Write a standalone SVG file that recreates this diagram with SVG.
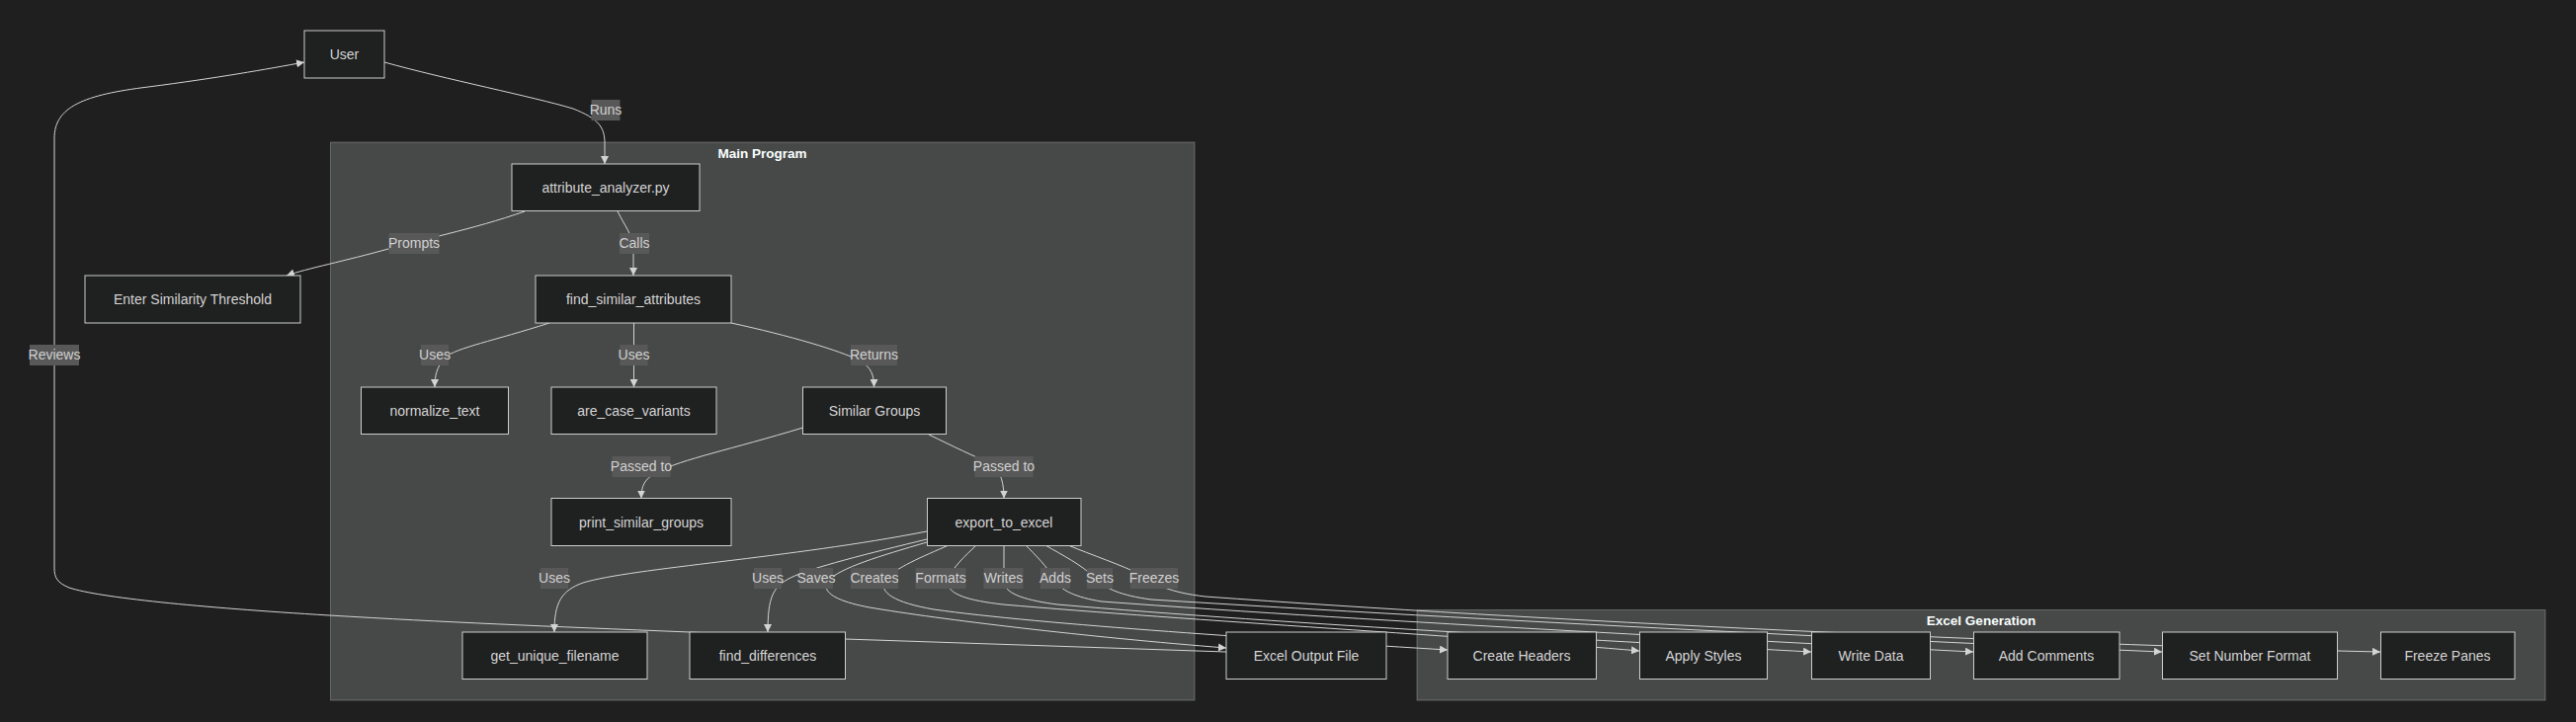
<svg xmlns="http://www.w3.org/2000/svg" width="2607" height="731" viewBox="0 0 2607 731">
<style>
.bg{fill:#1f1f1f}
.cluster{fill:#474949;stroke:rgba(255,255,255,0.25);stroke-width:1}
.ctitle{fill:#f9fffe;font-family:"Liberation Sans",Arial,sans-serif;font-size:13.5px;font-weight:bold;text-anchor:middle}
.node rect{fill:#1f2020;stroke:#cccccc;stroke-width:1}
.node text{fill:#d4d4d4;font-family:"Liberation Sans",Arial,sans-serif;font-size:14px;text-anchor:middle}
.edge{fill:none;stroke:#d3d3d3;stroke-width:1}
.lbl rect{fill:#585858}
.lbl text{fill:#d0d0d0;font-family:"Liberation Sans",Arial,sans-serif;font-size:14px;text-anchor:middle}
</style>
<defs>
<marker id="arrow" viewBox="0 0 10 10" refX="10" refY="5" markerUnits="userSpaceOnUse" markerWidth="8" markerHeight="8" orient="auto">
<path d="M0,0 L10,5 L0,10 z" fill="#d3d3d3"/>
</marker>
</defs>
<rect class="bg" x="0" y="0" width="2607" height="731"/>

<g id="clusters">
<g id="cluster-main"><rect class="cluster" x="334.5" y="144" width="874.5" height="565"/><text class="ctitle" x="771.5" y="159.5">Main Program</text></g>
<g id="cluster-excel"><rect class="cluster" x="1434" y="617.5" width="1142" height="91.5"/><text class="ctitle" x="2005" y="632.5">Excel Generation</text></g>
</g>

<g id="edges">
<path class="edge" marker-end="url(#arrow)" d="M389,63 C450,80 540,98 580,110 C605,120 612,128 612,145 L612,166"/>
<path class="edge" marker-end="url(#arrow)" d="M531,214 C480,232 420,244 393,252 C350,264 310,272 290,279"/>
<path class="edge" marker-end="url(#arrow)" d="M625,214 C632,228 640,238 641,250 L641,279"/>
<path class="edge" marker-end="url(#arrow)" d="M556,327 C500,345 462,352 450,362 C442,372 440,380 440,392"/>
<path class="edge" marker-end="url(#arrow)" d="M641.5,327 L641.5,392"/>
<path class="edge" marker-end="url(#arrow)" d="M740,327 C800,340 850,355 870,365 C882,372 884.5,380 884.5,392"/>
<path class="edge" marker-end="url(#arrow)" d="M812.6,433 C740,455 690,465 665,478 C652,485 649,492 649,504.5"/>
<path class="edge" marker-end="url(#arrow)" d="M940,440 C965,452 985,462 1005,470 C1013,478 1016,490 1016,504.5"/>
<path class="edge" marker-end="url(#arrow)" d="M938,538 C800,565 640,575 590,590 C568,598 561,610 561,640"/>
<path class="edge" marker-end="url(#arrow)" d="M938,546 C880,560 820,575 800,585 C782,594 777,605 777,640"/>
<path class="edge" marker-end="url(#arrow)" d="M938,549 C890,563 850,575 838,588 C830,600 848,609 880,615 C950,627 1100,645 1241,656"/>
<path class="edge" marker-end="url(#arrow)" d="M960,552 C935,563 905,575 895,588 C890,600 905,610 945,617 C1050,632 1300,648 1465,658"/>
<path class="edge" marker-end="url(#arrow)" d="M988,552 C978,562 962,575 959,590 C960,602 980,608 1015,612 C1200,628 1500,645 1659,659"/>
<path class="edge" marker-end="url(#arrow)" d="M1016,552 L1016,590 C1018,602 1040,608 1070,612 C1300,632 1650,650 1833,660"/>
<path class="edge" marker-end="url(#arrow)" d="M1038,552 C1048,562 1060,574 1066,585 C1072,598 1090,605 1115,609 C1400,630 1800,650 1997,660"/>
<path class="edge" marker-end="url(#arrow)" d="M1058,552 C1075,562 1095,572 1108,585 C1118,596 1135,603 1165,607 C1500,628 1950,650 2188,660"/>
<path class="edge" marker-end="url(#arrow)" d="M1081,552 C1105,562 1135,572 1155,582 C1168,592 1185,600 1220,604 C1550,628 2050,652 2409,660"/>
<path class="edge" marker-end="url(#arrow)" d="M1241,660 L855,647 L698,640 C550,634 450,630 333,623 C200,615 100,605 70,595 C58,590 55,585 55,575 L55,140 C55,108 85,96 150,88 C220,79 270,70 308,63"/>
</g>

<g id="edge-labels">
<g class="lbl"><rect x="598.5" y="101" width="29" height="21"/><text x="613" y="116">Runs</text></g>
<g class="lbl"><rect x="393.5" y="236" width="51" height="21"/><text x="419" y="251">Prompts</text></g>
<g class="lbl"><rect x="627" y="236" width="30" height="21"/><text x="642" y="251">Calls</text></g>
<g class="lbl"><rect x="426" y="349" width="28" height="21"/><text x="440" y="364">Uses</text></g>
<g class="lbl"><rect x="627.5" y="349" width="28" height="21"/><text x="641.5" y="364">Uses</text></g>
<g class="lbl"><rect x="861" y="349" width="47" height="21"/><text x="884.5" y="364">Returns</text></g>
<g class="lbl"><rect x="30" y="349" width="50" height="21"/><text x="55" y="364">Reviews</text></g>
<g class="lbl"><rect x="619.5" y="462" width="59" height="21"/><text x="649" y="477">Passed to</text></g>
<g class="lbl"><rect x="986.5" y="462" width="59" height="21"/><text x="1016" y="477">Passed to</text></g>
<g class="lbl"><rect x="547" y="575" width="28" height="21"/><text x="561" y="590">Uses</text></g>
<g class="lbl"><rect x="763" y="575" width="28" height="21"/><text x="777" y="590">Uses</text></g>
<g class="lbl"><rect x="809" y="575" width="34" height="21"/><text x="826" y="590">Saves</text></g>
<g class="lbl"><rect x="861" y="575" width="48" height="21"/><text x="885" y="590">Creates</text></g>
<g class="lbl"><rect x="926.5" y="575" width="51" height="21"/><text x="952" y="590">Formats</text></g>
<g class="lbl"><rect x="995.5" y="575" width="40" height="21"/><text x="1015.5" y="590">Writes</text></g>
<g class="lbl"><rect x="1053" y="575" width="30" height="21"/><text x="1068" y="590">Adds</text></g>
<g class="lbl"><rect x="1100" y="575" width="26" height="21"/><text x="1113" y="590">Sets</text></g>
<g class="lbl"><rect x="1144" y="575" width="48" height="21"/><text x="1168" y="590">Freezes</text></g>
</g>

<g id="nodes">
<g id="user" class="node"><rect x="308" y="31" width="81" height="48"/><text x="348.5" y="60">User</text></g>
<g id="attribute_analyzer" class="node"><rect x="518" y="166" width="190" height="47.5"/><text x="613" y="194.5">attribute_analyzer.py</text></g>
<g id="threshold" class="node"><rect x="86" y="279" width="218" height="48"/><text x="195" y="308">Enter Similarity Threshold</text></g>
<g id="find_similar_attributes" class="node"><rect x="542" y="279" width="198" height="48"/><text x="641" y="308">find_similar_attributes</text></g>
<g id="normalize_text" class="node"><rect x="365.5" y="392" width="149" height="47.5"/><text x="440" y="420.5">normalize_text</text></g>
<g id="are_case_variants" class="node"><rect x="558" y="392" width="167" height="47.5"/><text x="641.5" y="420.5">are_case_variants</text></g>
<g id="similar_groups" class="node"><rect x="812.5" y="392" width="145" height="47.5"/><text x="885" y="420.5">Similar Groups</text></g>
<g id="print_similar_groups" class="node"><rect x="558" y="504.5" width="182" height="48"/><text x="649" y="533.5">print_similar_groups</text></g>
<g id="export_to_excel" class="node"><rect x="938.5" y="504.5" width="155.5" height="48"/><text x="1016" y="533.5">export_to_excel</text></g>
<g id="get_unique_filename" class="node"><rect x="468" y="640" width="187" height="47.5"/><text x="561.5" y="668.5">get_unique_filename</text></g>
<g id="find_differences" class="node"><rect x="698" y="640" width="157.5" height="47.5"/><text x="777" y="668.5">find_differences</text></g>
<g id="excel_output_file" class="node"><rect x="1241" y="640" width="162" height="47.5"/><text x="1322" y="668.5">Excel Output File</text></g>
<g id="create_headers" class="node"><rect x="1465" y="640" width="150.5" height="47.5"/><text x="1540" y="668.5">Create Headers</text></g>
<g id="apply_styles" class="node"><rect x="1659.5" y="640" width="129" height="47.5"/><text x="1724" y="668.5">Apply Styles</text></g>
<g id="write_data" class="node"><rect x="1833.5" y="640" width="120" height="47.5"/><text x="1893.5" y="668.5">Write Data</text></g>
<g id="add_comments" class="node"><rect x="1997.5" y="640" width="147.5" height="47.5"/><text x="2071" y="668.5">Add Comments</text></g>
<g id="set_number_format" class="node"><rect x="2188.5" y="640" width="177" height="47.5"/><text x="2277" y="668.5">Set Number Format</text></g>
<g id="freeze_panes" class="node"><rect x="2409.5" y="640" width="135.5" height="47.5"/><text x="2477" y="668.5">Freeze Panes</text></g>
</g>
</svg>
